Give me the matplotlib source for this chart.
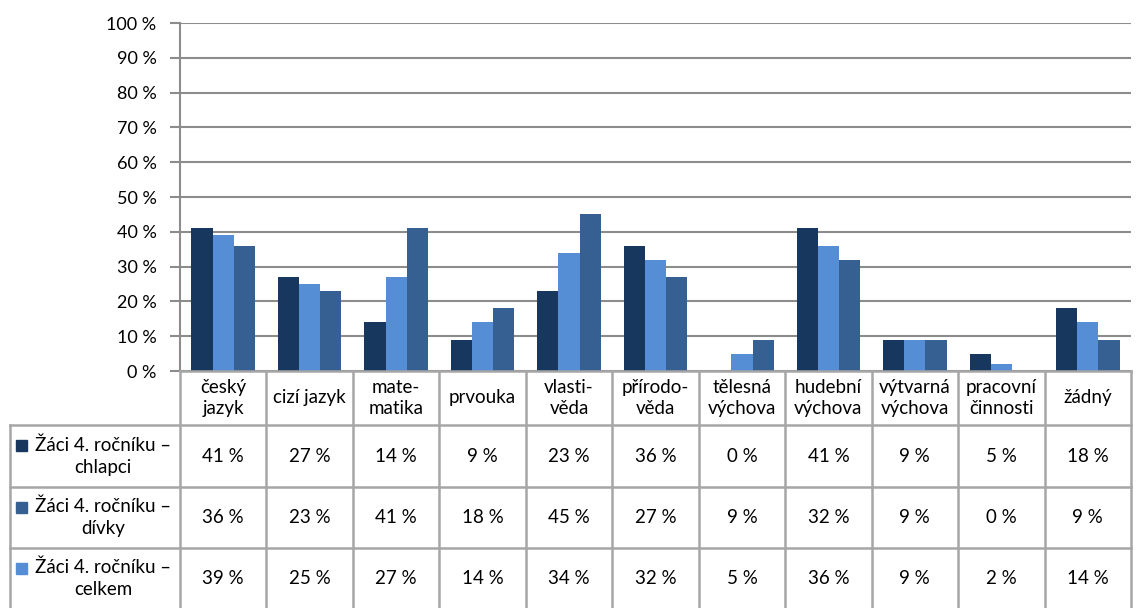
import matplotlib
matplotlib.use("Agg")
import matplotlib.pyplot as plt
import numpy as np

categories = ["český\njazyk", "cizí jazyk", "mate-\nmatika", "prvouka", "vlasti-\nvěda",
              "přírodo-\nvěda", "tělesná\nvýchova", "hudební\nvýchova", "výtvarná\nvýchova",
              "pracovní\nčinnosti", "žádný"]
chlapci = [41, 27, 14, 9, 23, 36, 0, 41, 9, 5, 18]
divky = [36, 23, 41, 18, 45, 27, 9, 32, 9, 0, 9]
celkem = [39, 25, 27, 14, 34, 32, 5, 36, 9, 2, 14]
series_names = ["Žáci 4. ročníku –\nchlapci", "Žáci 4. ročníku –\ndívky", "Žáci 4. ročníku –\ncelkem"]
yticks = [0, 10, 20, 30, 40, 50, 60, 70, 80, 90, 100]

c_chl = "#17375E"
c_div = "#366092"
c_cel = "#558ED5"
grid_c = "#8C8C8C"
tab_c = "#A6A6A6"

plt.rcParams['font.family'] = ['Lato', 'DejaVu Sans']
W, H = 1143, 608
fig = plt.figure(figsize=(W / 100, H / 100), dpi=100)

x0, x1, ytop, ybot = 180, 1131, 23, 371
ax = fig.add_axes([x0 / W, 1 - ybot / H, (x1 - x0) / W, (ybot - ytop) / H])
n = len(categories)
x = np.arange(n)
bw = 0.245
ax.bar(x - bw, chlapci, bw, color=c_chl, zorder=3)
ax.bar(x, celkem, bw, color=c_cel, zorder=3)
ax.bar(x + bw, divky, bw, color=c_div, zorder=3)
ax.set_xlim(-0.5, n - 0.5)
ax.set_ylim(0, 100)
ax.set_yticks(yticks)
ax.set_yticklabels([f"{v} %" for v in yticks], fontsize=13)
ax.set_xticks([])
ax.yaxis.grid(True, color=grid_c, linewidth=1.5, zorder=0)
for s in ["top", "right", "bottom"]:
    ax.spines[s].set_visible(False)
ax.spines["left"].set_color(grid_c)
ax.spines["left"].set_linewidth(1.5)
ax.tick_params(axis="y", length=7, width=1.5, color=grid_c, pad=10)

# table in pixel coordinates
tax = fig.add_axes([0, 0, 1, 1])
tax.set_xlim(0, W)
tax.set_ylim(H, 0)
tax.axis("off")
colw = (x1 - x0) / n
rows_y = [371, 425, 487, 548, 609]
lw = 1.8
tax.plot([x0, x1], [371, 371], color=tab_c, lw=lw)
for yy in rows_y[1:]:
    tax.plot([10, x1], [yy, yy], color=tab_c, lw=lw)
for i in range(n + 1):
    xx = x0 + i * colw
    tax.plot([xx, xx], [371, 609], color=tab_c, lw=lw)
tax.plot([10, 10], [425, 609], color=tab_c, lw=lw)

fs = 13.5
for i, cat in enumerate(categories):
    cx = x0 + (i + 0.5) * colw
    tax.text(cx, 398, cat, ha="center", va="center", fontsize=fs, linespacing=1.35)

data = [chlapci, divky, celkem]
colors = [c_chl, c_div, c_cel]
for r in range(3):
    yc = (rows_y[r + 1] + rows_y[r + 2]) / 2
    tax.text(103, yc, series_names[r], ha="center", va="center", fontsize=fs, linespacing=1.35)
    tax.add_patch(plt.Rectangle((16, yc - 16), 11, 11, color=colors[r]))
    for i in range(n):
        cx = x0 + (i + 0.5) * colw
        tax.text(cx, yc, f"{data[r][i]} %", ha="center", va="center", fontsize=fs)

fig.savefig("out.png", dpi=100)
